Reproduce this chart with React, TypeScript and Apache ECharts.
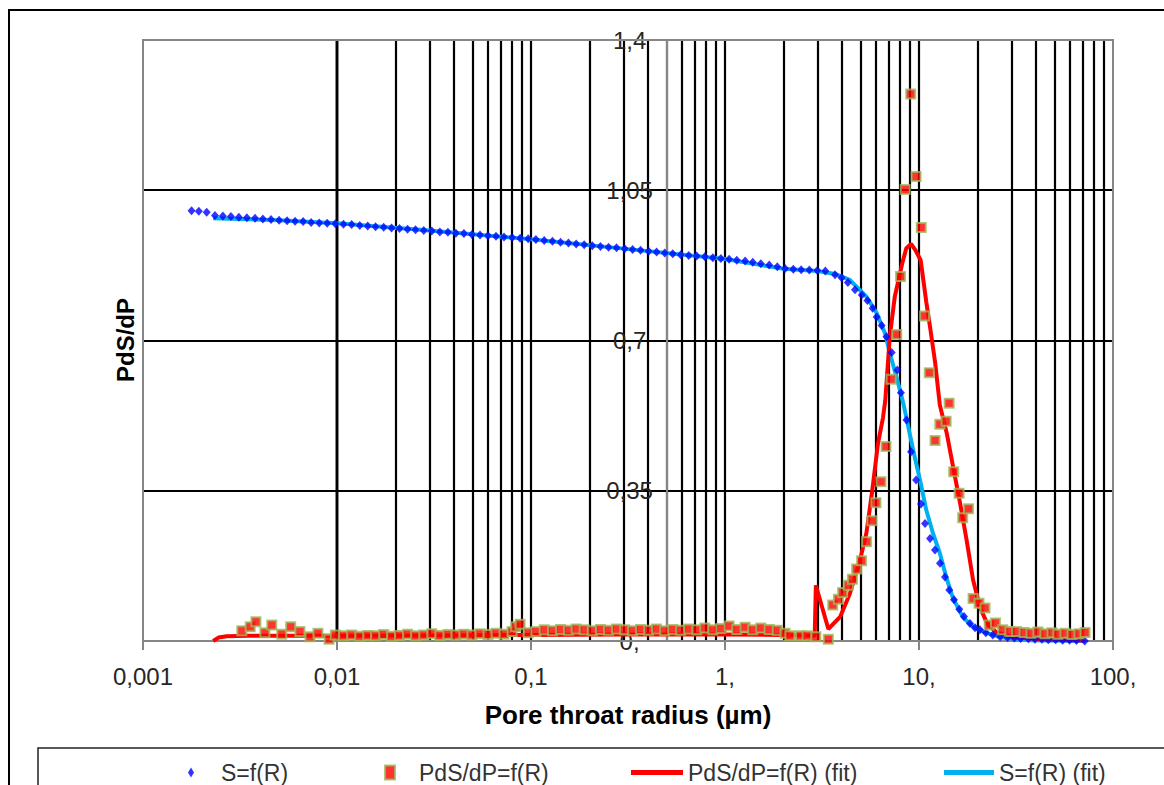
import React, { useEffect, useRef } from "react";
import * as echarts from "echarts";

// S = f(R) measured points [radius µm, value]
const sPoints: number[][] = [
  [0.00178, 1.002], [0.00194, 1.001], [0.00213, 0.999], [0.00235, 0.991], [0.00258, 0.99], [0.00284, 0.989],
  [0.00312, 0.987], [0.00343, 0.986], [0.00378, 0.985], [0.00415, 0.983], [0.00457, 0.982], [0.00503, 0.98],
  [0.00553, 0.979], [0.00608, 0.978], [0.00669, 0.977], [0.00736, 0.975], [0.0081, 0.974], [0.0089, 0.973],
  [0.0098, 0.972], [0.0108, 0.971], [0.0119, 0.97], [0.0131, 0.968], [0.0144, 0.967], [0.0158, 0.965],
  [0.0174, 0.964], [0.0191, 0.962], [0.021, 0.961], [0.0231, 0.959], [0.0254, 0.958], [0.028, 0.956],
  [0.0308, 0.955], [0.0339, 0.953], [0.0373, 0.952], [0.041, 0.95], [0.0451, 0.949], [0.0496, 0.947],
  [0.0546, 0.946], [0.06, 0.944], [0.066, 0.943], [0.0726, 0.941], [0.0799, 0.94], [0.0879, 0.938], [0.0967, 0.937],
  [0.106, 0.935], [0.117, 0.933], [0.129, 0.931], [0.142, 0.929], [0.156, 0.927], [0.171, 0.925],
  [0.188, 0.923], [0.207, 0.921], [0.228, 0.919], [0.251, 0.917], [0.276, 0.916], [0.304, 0.914],
  [0.334, 0.912], [0.367, 0.91], [0.404, 0.908], [0.444, 0.906], [0.489, 0.904], [0.538, 0.902],
  [0.591, 0.9], [0.65, 0.898], [0.715, 0.897], [0.787, 0.895], [0.866, 0.893], [0.952, 0.891],
  [1.05, 0.889], [1.15, 0.887], [1.27, 0.885], [1.39, 0.882], [1.53, 0.879], [1.69, 0.876], [1.86, 0.872],
  [2.04, 0.868], [2.25, 0.866], [2.47, 0.865], [2.72, 0.864], [2.99, 0.863], [3.29, 0.862],
  [3.69, 0.853], [3.99, 0.846], [4.3, 0.835], [4.68, 0.818], [5.07, 0.806], [5.42, 0.793], [5.77, 0.775],
  [6.05, 0.755], [6.42, 0.735], [6.8, 0.709], [7.23, 0.672], [7.73, 0.631], [8.07, 0.578], [8.62, 0.515],
  [9.1, 0.441], [9.66, 0.375], [10.24, 0.319], [10.74, 0.274], [11.4, 0.239], [12.09, 0.212], [12.83, 0.181],
  [13.61, 0.149], [14.33, 0.119], [15.15, 0.096], [16.13, 0.074], [17.06, 0.057], [18.32, 0.041],
  [19.44, 0.031], [20.61, 0.026], [22.1, 0.019], [24.0, 0.014], [26.2, 0.01], [28.6, 0.008], [31.0, 0.007],
  [33.4, 0.006], [36.6, 0.005], [39.6, 0.004], [43.0, 0.004], [46.4, 0.003], [50.6, 0.003], [55.0, 0.002],
  [59.7, 0.002], [64.8, 0.001], [71.5, 0.0],
];

// PdS/dP = f(R) measured points
const pdsPoints: number[][] = [
  [0.00323, 0.024], [0.00357, 0.033], [0.00382, 0.045], [0.00425, 0.019], [0.00461, 0.037], [0.00519, 0.016],
  [0.00577, 0.033], [0.00644, 0.022], [0.00726, 0.01], [0.00798, 0.018], [0.0091, 0.004], [0.0098, 0.014],
  [0.0108, 0.012], [0.0119, 0.014], [0.0131, 0.011], [0.0144, 0.013], [0.0158, 0.012], [0.0174, 0.015],
  [0.0191, 0.011], [0.021, 0.013], [0.0231, 0.016], [0.0254, 0.012], [0.028, 0.014], [0.0308, 0.017],
  [0.0339, 0.013], [0.0373, 0.015], [0.041, 0.014], [0.0451, 0.016], [0.0496, 0.014], [0.0546, 0.017],
  [0.06, 0.015], [0.066, 0.018], [0.0726, 0.016], [0.0799, 0.022], [0.0835, 0.033], [0.0879, 0.039],
  [0.0967, 0.019], [0.106, 0.022], [0.117, 0.026], [0.129, 0.024], [0.142, 0.027], [0.156, 0.025],
  [0.171, 0.028], [0.188, 0.026], [0.207, 0.024], [0.228, 0.027], [0.251, 0.025], [0.276, 0.028],
  [0.304, 0.026], [0.334, 0.024], [0.367, 0.027], [0.404, 0.025], [0.444, 0.028], [0.489, 0.024],
  [0.538, 0.027], [0.591, 0.025], [0.65, 0.028], [0.715, 0.026], [0.787, 0.03], [0.866, 0.026],
  [0.952, 0.029], [1.05, 0.035], [1.15, 0.027], [1.27, 0.032], [1.39, 0.026], [1.53, 0.03], [1.69, 0.027],
  [1.86, 0.025], [2.04, 0.018], [2.16, 0.012], [2.45, 0.012], [2.65, 0.012], [2.94, 0.01], [3.41, 0.004],
  [3.59, 0.084], [3.84, 0.097], [4.04, 0.113], [4.32, 0.13], [4.54, 0.144], [4.77, 0.168], [5.06, 0.187],
  [5.37, 0.231], [5.72, 0.28], [6.0, 0.322], [6.37, 0.371], [6.76, 0.453], [7.18, 0.61], [7.68, 0.714],
  [8.03, 0.849], [8.49, 1.052], [9.06, 1.274], [9.66, 1.082], [10.27, 0.963], [10.69, 0.757], [11.3, 0.625],
  [12.1, 0.467], [12.8, 0.505], [13.8, 0.512], [14.3, 0.554], [15.1, 0.394], [16.1, 0.344], [16.8, 0.287],
  [18.0, 0.308], [19.0, 0.099], [20.4, 0.088], [21.9, 0.077], [23.0, 0.037], [24.8, 0.042], [27.0, 0.026],
  [29.4, 0.022], [31.8, 0.022], [34.8, 0.02], [37.8, 0.018], [41.0, 0.021], [44.6, 0.017], [48.5, 0.019],
  [52.0, 0.016], [56.6, 0.018], [61.5, 0.015], [66.8, 0.017], [71.8, 0.02],
];

// PdS/dP = f(R) (fit)
const pdsFitPoints: number[][] = [
  [0.0023, 0], [0.00245, 0.008], [0.0027, 0.011], [0.0035, 0.012], [0.006, 0.012], [0.01, 0.012],
  [0.03, 0.013], [0.1, 0.014], [0.3, 0.015], [1, 0.015], [2, 0.014], [2.9, 0.012], [2.94, 0.13],
  [3.41, 0.028], [3.92, 0.056], [4.4, 0.11], [4.97, 0.189], [5.36, 0.252], [5.72, 0.345], [6.15, 0.461],
  [6.52, 0.52], [6.7, 0.56], [7.07, 0.709], [7.5, 0.802], [8.2, 0.88], [8.6, 0.915], [9.1, 0.925],
  [9.6, 0.91], [10.2, 0.887], [10.9, 0.79], [11.5, 0.72], [12.1, 0.65], [12.8, 0.55], [13.9, 0.484],
  [15.0, 0.405], [16.3, 0.32], [17.6, 0.235], [19.0, 0.142], [20.6, 0.079], [22.5, 0.04], [25.1, 0.02],
  [30.5, 0.009], [45, 0.003], [71.5, 0.001],
];

// S = f(R) (fit)
const sFitPoints: number[][] = [
  [0.0023, 0.985], [0.005, 0.98], [0.01, 0.973], [0.03, 0.956], [0.1, 0.936], [0.3, 0.914], [1, 0.89],
  [2, 0.867], [3, 0.862], [3.69, 0.855], [4.4, 0.841], [5.36, 0.802], [6.05, 0.764], [6.68, 0.717],
  [7.07, 0.671], [7.73, 0.608], [8.3, 0.554], [9.33, 0.445], [10.2, 0.368], [10.9, 0.305], [11.8, 0.251],
  [12.8, 0.205], [13.8, 0.15], [14.9, 0.102], [16.8, 0.056], [19.0, 0.033], [22.3, 0.019], [26.2, 0.009],
  [37.3, 0.002], [71.5, 0.0],
];

const xTickLabels = ["0,001", "0,01", "0,1", "1,", "10,", "100,"];
const yTickLabels = ["0,", "0,35", "0,7", "1,05", "1,4"];
const gridDecades = [0.001, 0.01, 0.1, 1, 10];
const gridMultipliers = [1, 2, 3, 4, 5, 6, 7, 8, 9];

const X_MIN = 0.001;
const X_MAX = 100;
const Y_CROSS_X = 0.5;
const FONT = "'Liberation Sans', Arial, sans-serif";
const GRID = { left: 143, top: 40, width: 970, height: 601 };

export default function App() {
  const ref = useRef<HTMLDivElement>(null);

  useEffect(() => {
    if (!ref.current) return;
    const chart = echarts.init(ref.current, null, { renderer: "svg" });

    const verticalGrid: number[] = [];
    gridDecades.forEach((d) =>
      gridMultipliers.forEach((m) => {
        const v = +(d * m).toPrecision(6);
        if (v > X_MIN && v < X_MAX) verticalGrid.push(v);
      })
    );

    const decades = Math.log10(X_MAX) - Math.log10(X_MIN);
    const yOffset = -(GRID.width * (Math.log10(Y_CROSS_X) - Math.log10(X_MIN))) / decades;

    const option: any = {
      animation: false,
      grid: {
        left: GRID.left,
        top: GRID.top,
        width: GRID.width,
        height: GRID.height,
        containLabel: false,
      },
      xAxis: {
        type: "log",
        logBase: 10,
        min: X_MIN,
        max: X_MAX,
        z: 1,
        axisLine: { show: true, lineStyle: { color: "#868686", width: 2 } },
        axisTick: { show: true, length: 9, lineStyle: { color: "#868686", width: 2 } },
        axisLabel: {
          margin: 23,
          fontSize: 24,
          fontFamily: FONT,
          color: "#262626",
          formatter: (v: number) => xTickLabels[Math.round(Math.log10(v)) + 3] ?? "",
        },
        splitLine: { show: false },
        minorTick: { show: false },
        minorSplitLine: { show: false },
        name: "Pore throat radius (µm)",
        nameLocation: "middle",
        nameGap: 61,
        nameTextStyle: { fontSize: 26, fontWeight: "bold", color: "#000", fontFamily: FONT },
      },
      yAxis: {
        type: "value",
        min: 0,
        max: 1.4,
        interval: 0.35,
        position: "left",
        offset: yOffset,
        z: 1,
        axisLine: { show: true, onZero: false, lineStyle: { color: "#868686", width: 2 } },
        axisTick: { show: false },
        axisLabel: {
          margin: 37,
          align: "center",
          fontSize: 24,
          fontFamily: FONT,
          color: "#262626",
          formatter: (v: number) => yTickLabels[Math.round(v / 0.35)] ?? "",
        },
        splitLine: {
          show: true,
          showMinLine: false,
          showMaxLine: false,
          lineStyle: { color: "#000", width: 2.2 },
        },
      },
      legend: [
        {
          data: [{ name: "S=f(R)", icon: "diamond", itemStyle: { color: "#0000ff" } }],
          left: 183,
          top: 756,
          itemWidth: 6,
          itemHeight: 10,
          selectedMode: false,
          textStyle: { fontSize: 23, fontFamily: FONT, color: "#333", padding: [0, 0, 0, 22] },
        },
        {
          data: [
            {
              name: "PdS/dP=f(R)",
              icon: "rect",
              itemStyle: { color: "#ff0000", borderColor: "#9bbb59", borderWidth: 2 },
            },
          ],
          left: 379,
          top: 756,
          itemWidth: 10,
          itemHeight: 14,
          selectedMode: false,
          textStyle: { fontSize: 23, fontFamily: FONT, color: "#333", padding: [0, 0, 0, 19] },
        },
        {
          data: [{ name: "PdS/dP=f(R) (fit)", icon: "rect", itemStyle: { color: "#ff0000" } }],
          left: 626,
          top: 756,
          itemWidth: 52,
          itemHeight: 5,
          selectedMode: false,
          textStyle: { fontSize: 23, fontFamily: FONT, color: "#333" },
        },
        {
          data: [{ name: "S=f(R) (fit)", icon: "rect", itemStyle: { color: "#00b0f0" } }],
          left: 939,
          top: 756,
          itemWidth: 50,
          itemHeight: 5,
          selectedMode: false,
          textStyle: { fontSize: 23, fontFamily: FONT, color: "#333" },
        },
      ],
      graphic: [
        {
          type: "rect",
          silent: true,
          z: -10,
          shape: { x: 9, y: 10, width: 1300, height: 900 },
          style: { fill: "none", stroke: "#000", lineWidth: 2 },
        },
        {
          type: "rect",
          silent: true,
          z: -10,
          shape: { x: 38, y: 748, width: 1300, height: 100 },
          style: { fill: "none", stroke: "#222", lineWidth: 1.5 },
        },
        {
          type: "rect",
          silent: true,
          z: 2,
          shape: { x: GRID.left, y: GRID.top, width: GRID.width, height: GRID.height },
          style: { fill: "none", stroke: "#868686", lineWidth: 2 },
        },
        {
          type: "text",
          silent: true,
          x: 125,
          y: 340,
          rotation: Math.PI / 2,
          style: {
            text: "PdS/dP",
            fontSize: 24,
            fontWeight: "bold",
            fontFamily: FONT,
            fill: "#000",
            align: "center",
            verticalAlign: "middle",
          },
        },
      ],
      series: [
        {
          name: "S=f(R) (fit)",
          type: "line",
          data: sFitPoints,
          showSymbol: false,
          z: 3,
          lineStyle: { color: "#00b0f0", width: 4 },
          itemStyle: { color: "#00b0f0" },
          markLine: {
            silent: true,
            z: 0,
            symbol: "none",
            label: { show: false },
            lineStyle: { color: "#000", width: 2.2, type: "solid", opacity: 1 },
            data: verticalGrid.map((v) => ({ xAxis: v })),
          },
        },
        {
          name: "PdS/dP=f(R) (fit)",
          type: "line",
          data: pdsFitPoints,
          showSymbol: false,
          z: 4,
          lineStyle: { color: "#ff0000", width: 4 },
          itemStyle: { color: "#ff0000" },
        },
        {
          name: "S=f(R)",
          type: "scatter",
          data: sPoints,
          z: 5,
          symbol: "diamond",
          symbolSize: [8, 9],
          itemStyle: { color: "#0000ff" },
        },
        {
          name: "PdS/dP=f(R)",
          type: "scatter",
          data: pdsPoints,
          z: 6,
          symbol: "rect",
          symbolSize: 9,
          itemStyle: { color: "#ff0000", borderColor: "#9bbb59", borderWidth: 2 },
        },
      ],
    };

    chart.setOption(option);
    return () => chart.dispose();
  }, []);

  return (
    <div
      ref={ref}
      style={{ position: "fixed", left: 0, top: 0, width: 1164, height: 785, background: "#fff" }}
    />
  );
}
